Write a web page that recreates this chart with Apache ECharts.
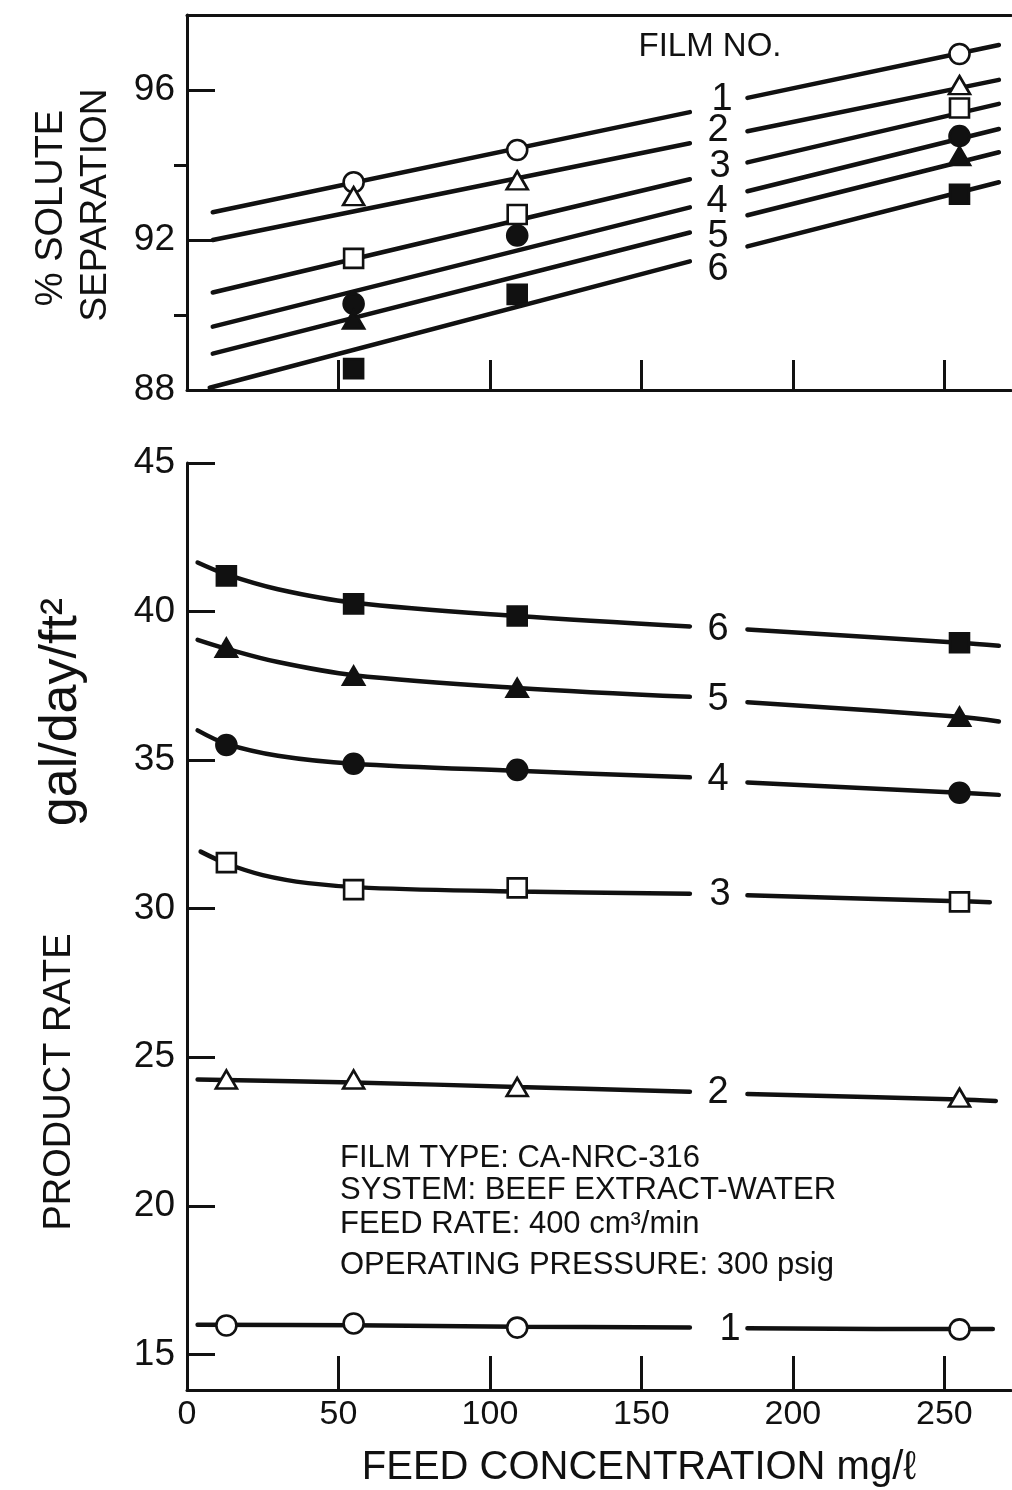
<!DOCTYPE html>
<html><head><meta charset="utf-8">
<script src="https://cdn.jsdelivr.net/npm/echarts@6/dist/echarts.min.js"></script>
<style>html,body{margin:0;padding:0;background:#fff}#c{width:1012px;height:1490px}</style>
</head><body><div id="c"></div>
<script>
// ---------- data ----------
const filmNames = ['1','2','3','4','5','6'];
const xTickValues = [50,100,150,200,250];
const xTickLabels = [0,50,100,150,200,250];
const sepTickLabels = [88,92,96];
const sepMajorTicks = [92,96];
const sepMinorTicks = [90,94];
const rateTickLabels = [15,20,25,30,35,40,45];

// % solute separation - measured points (feed conc mg/l, %)
const sepPts1 = [[55,93.54],[109,94.40],[255,96.96]];
const sepPts2 = [[55,93.17],[109,93.59],[255,96.13]];
const sepPts3 = [[55,91.51],[109,92.68],[255,95.52]];
const sepPts4 = [[55,90.30],[109,92.12],[255,94.77]];
const sepPts5 = [[55,89.88],[255,94.24]];
const sepPts6 = [[55,88.57],[109,90.55],[255,93.22]];

// % solute separation - drawn lines ('-' = break where film no. is written)
const sepLine1 = [[8.5,92.74],[166,95.41],[175,'-'],[185,95.79],[268,97.20]];
const sepLine2 = [[8.5,92.00],[166,94.58],[175,'-'],[185,94.90],[268,96.27]];
const sepLine3 = [[8.5,90.60],[166,93.62],[175,'-'],[185,94.07],[268,95.63]];
const sepLine4 = [[8.5,89.69],[166,92.87],[175,'-'],[185,93.30],[268,94.96]];
const sepLine5 = [[8.5,88.97],[166,92.20],[175,'-'],[185,92.66],[268,94.34]];
const sepLine6 = [[7.5,88.06],[166,91.43],[175,'-'],[185,91.83],[268,93.54]];

// product rate - measured points (feed conc mg/l, gal/day/ft2)
const ratePts1 = [[13,15.97],[55,16.04],[109,15.90],[255,15.84]];
const ratePts2 = [[13,24.25],[55,24.25],[109,24.00],[255,23.64]];
const ratePts3 = [[13,31.55],[55,30.64],[109,30.70],[255,30.23]];
const ratePts4 = [[13,35.51],[55,34.88],[109,34.67],[255,33.90]];
const ratePts5 = [[13,38.78],[55,37.84],[109,37.43],[255,36.46]];
const ratePts6 = [[13,41.20],[55,40.26],[109,39.85],[255,38.95]];

// product rate - drawn curves
const rateLine1 = [[3.5,16.00],[55,15.98],[109,15.93],[166,15.90],[175,'-'],[185,15.88],[255,15.85],[266,15.85]];
const rateLine2 = [[3.5,24.25],[55,24.15],[109,24.00],[166,23.84],[175,'-'],[185,23.76],[255,23.58],[267,23.53]];
const rateLine3 = [[4.5,31.92],[13,31.52],[25,31.13],[40,30.86],[60,30.70],[109,30.58],[166,30.50],[175,'-'],[185,30.45],[255,30.25],[265,30.22]];
const rateLine4 = [[3.5,36.00],[13,35.55],[30,35.15],[55,34.88],[109,34.64],[166,34.42],[175,'-'],[185,34.25],[255,33.90],[268,33.83]];
const rateLine5 = [[3.5,39.05],[13,38.75],[30,38.30],[55,37.86],[109,37.43],[166,37.13],[175,'-'],[185,36.95],[255,36.46],[268,36.30]];
const rateLine6 = [[3.5,41.65],[13,41.25],[30,40.75],[55,40.30],[109,39.85],[166,39.50],[175,'-'],[185,39.40],[255,38.95],[268,38.85]];

// ---------- build ----------
const sepPts = [sepPts1,sepPts2,sepPts3,sepPts4,sepPts5,sepPts6];
const sepLines = [sepLine1,sepLine2,sepLine3,sepLine4,sepLine5,sepLine6];
const ratePts = [ratePts1,ratePts2,ratePts3,ratePts4,ratePts5,ratePts6];
const rateLines = [rateLine1,rateLine2,rateLine3,rateLine4,rateLine5,rateLine6];

const FONT = '"Liberation Sans", Arial, sans-serif';
const INK = '#111';
const markerDefs = [
  {symbol:'circle', size:20, fill:'#fff'},
  {symbol:'triangle', size:[21,18], fill:'#fff'},
  {symbol:'rect', size:19, fill:'#fff'},
  {symbol:'circle', size:20, fill:INK},
  {symbol:'triangle', size:[21,18], fill:INK},
  {symbol:'rect', size:19, fill:INK}
];

const series = [];
function addPanel(lines, pts, gi, smooth) {
  lines.forEach((d, i) => {
    series.push({
      type:'line', name:'Film '+filmNames[i], xAxisIndex: gi===0?0:2, yAxisIndex: gi===0?0:2,
      data:d, smooth: smooth ? 0.35 : false, symbol:'none', connectNulls:false,
      lineStyle:{color:INK, width:4.5, cap:'round'}, z:2, silent:true
    });
  });
  pts.forEach((d, i) => {
    const m = markerDefs[i];
    series.push({
      type:'scatter', name:'Film '+filmNames[i], xAxisIndex: gi===0?0:2, yAxisIndex: gi===0?0:2,
      data:d, symbol:m.symbol, symbolSize:m.size,
      itemStyle:{color:m.fill, borderColor:INK, borderWidth:2.6, opacity:1}, z:3
    });
  });
}
addPanel(sepLines, sepPts, 0, false);
addPanel(rateLines, ratePts, 1, true);

const axLine = {show:true, onZero:false, lineStyle:{color:INK, width:3}};
const option = {
  backgroundColor:'#fff',
  animation:false,
  textStyle:{fontFamily:FONT, color:INK},
  grid:[
    {left:187, top:15, width:824, height:375},
    {left:187, top:463, width:824, height:927}
  ],
  xAxis:[
    {gridIndex:0, type:'value', min:0, max:272, axisLine:axLine,
     axisTick:{show:true, inside:true, length:30, customValues:xTickValues, lineStyle:{color:INK,width:3}},
     axisLabel:{show:false}, splitLine:{show:false}},
    {gridIndex:0, type:'value', position:'top', min:0, max:272, axisLine:axLine,
     axisTick:{show:false}, axisLabel:{show:false}, splitLine:{show:false}},
    {gridIndex:1, type:'value', min:0, max:272, axisLine:axLine,
     axisTick:{show:true, inside:true, length:34, customValues:xTickValues, lineStyle:{color:INK,width:3}},
     axisLabel:{show:true, customValues:xTickLabels, fontSize:34, fontFamily:FONT, color:INK, margin:8},
     splitLine:{show:false}}
  ],
  yAxis:[
    {gridIndex:0, type:'value', min:88, max:98, axisLine:axLine,
     axisTick:{show:true, inside:true, length:28, customValues:sepMajorTicks, lineStyle:{color:INK,width:3}},
     axisLabel:{show:true, customValues:sepTickLabels, fontSize:37, fontFamily:FONT, color:INK, margin:12},
     splitLine:{show:false}},
    {gridIndex:0, type:'value', min:88, max:98, axisLine:{show:false},
     axisTick:{show:true, inside:true, length:13, customValues:sepMinorTicks, lineStyle:{color:INK,width:3}},
     axisLabel:{show:false}, splitLine:{show:false}},
    {gridIndex:1, type:'value', min:13.8, max:45, axisLine:axLine,
     axisTick:{show:true, inside:true, length:28, customValues:rateTickLabels, lineStyle:{color:INK,width:3}},
     axisLabel:{show:true, customValues:rateTickLabels, fontSize:37, fontFamily:FONT, color:INK, margin:12},
     splitLine:{show:false}}
  ],
  series: series,
  graphic: []
};

function txt(text, x, y, size, rot, align) {
  return {type:'text', x:x, y:y, rotation: rot||0, silent:true, z:10,
    style:{text:text, font: size+'px '+FONT, fill:INK,
      textAlign: align||'center', textVerticalAlign:'middle', align: align||'center', verticalAlign:'middle'}};
}
const g = option.graphic;
// axis titles
g.push(txt('% SOLUTE', 52, 208, 38, Math.PI/2));
g.push(txt('SEPARATION', 96, 205, 37, Math.PI/2));
g.push(txt('PRODUCT RATE', 60, 1082, 38, Math.PI/2));
g.push(txt('gal/day/ft²', 62, 712, 52, Math.PI/2));
g.push(txt('FEED CONCENTRATION mg/ℓ', 639, 1468, 40));
// film numbers
g.push(txt('FILM NO.', 710, 47, 33));
const topTag = [[722,100],[718,131],[720,167],[717,202],[718,237],[718,270]];
const botTag = [[730,1330],[718,1093],[720,895],[718,780],[718,700],[718,630]];
topTag.forEach((p,i)=>g.push(txt(filmNames[i], p[0], p[1], 38)));
botTag.forEach((p,i)=>g.push(txt(filmNames[i], p[0], p[1], 38)));
// conditions block
g.push(txt('FILM TYPE: CA-NRC-316', 340, 1158, 31, 0, 'left'));
g.push(txt('SYSTEM: BEEF EXTRACT-WATER', 340, 1190, 31, 0, 'left'));
g.push(txt('FEED RATE: 400 cm³/min', 340, 1224, 31, 0, 'left'));
g.push(txt('OPERATING PRESSURE: 300 psig', 340, 1265, 31, 0, 'left'));

const chart = echarts.init(document.getElementById('c'), null, {renderer:'canvas'});
chart.setOption(option);
</script></body></html>
